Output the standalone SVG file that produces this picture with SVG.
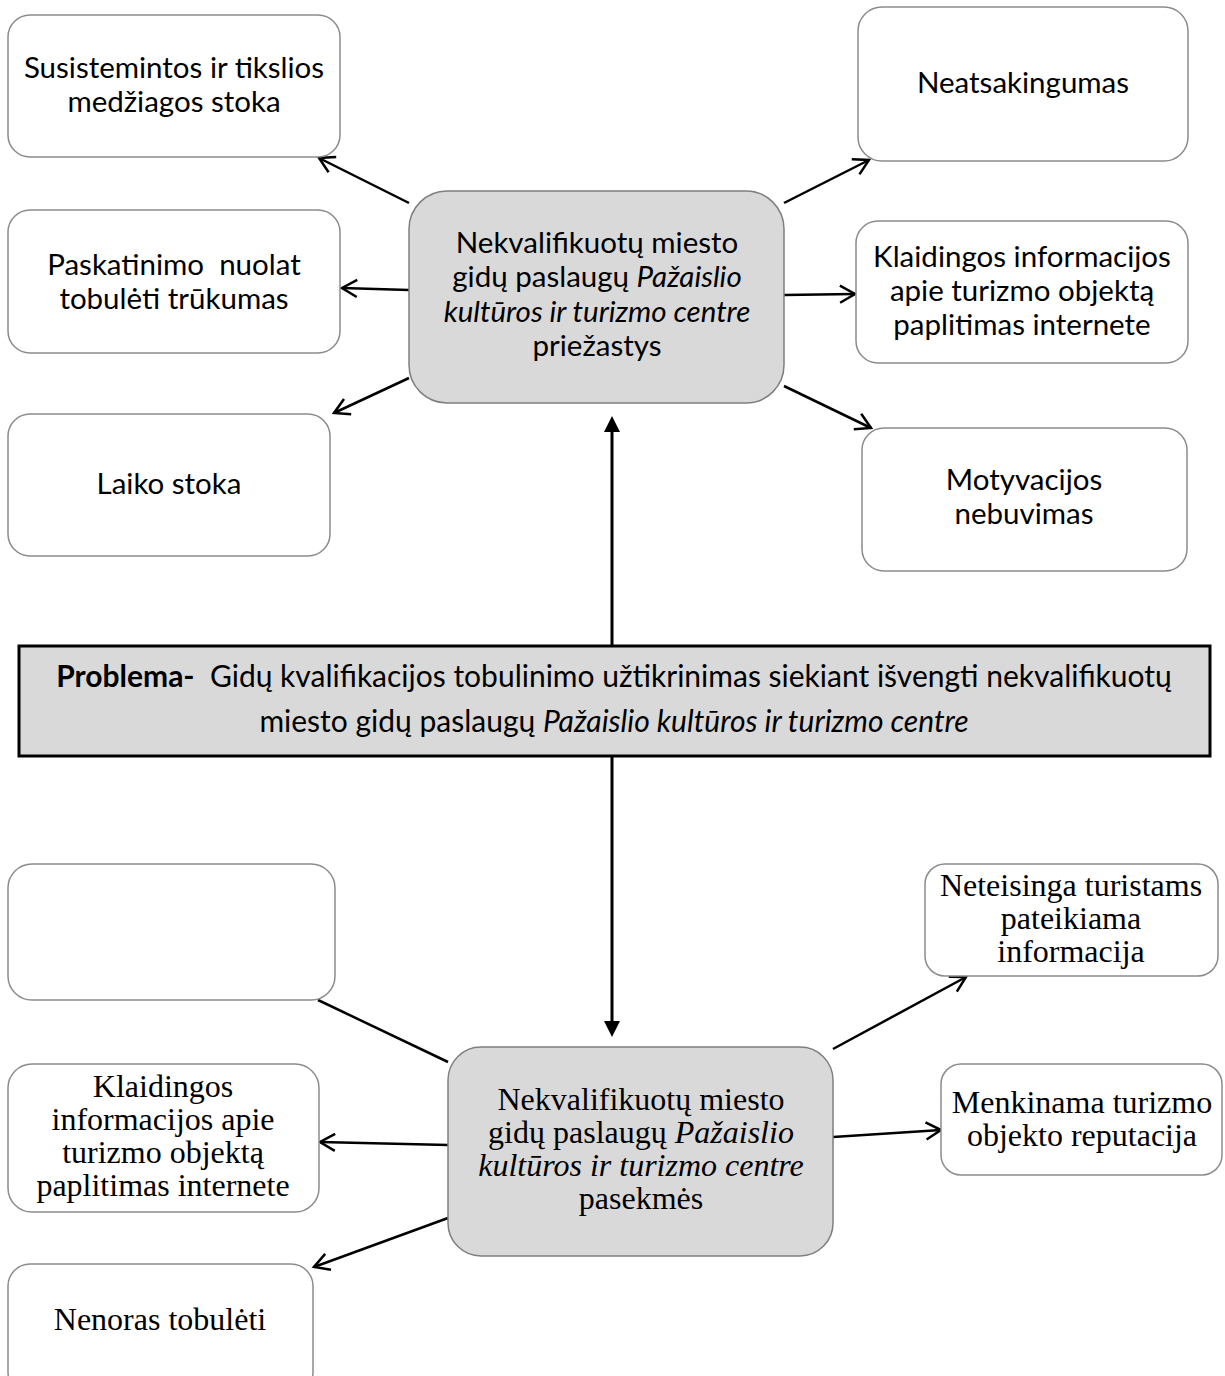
<svg xmlns="http://www.w3.org/2000/svg" width="1225" height="1376" viewBox="0 0 1225 1376">
<style>
.box{fill:#ffffff;stroke:#8c8c8c;stroke-width:1.5}
.hub{fill:#d9d9d9;stroke:#7f7f7f;stroke-width:1.5}
.prob{fill:#d9d9d9;stroke:#000000;stroke-width:3}
.c{font-family:Lato,"Liberation Sans",sans-serif;font-size:29.5px;fill:#000;text-anchor:middle;white-space:pre}
.p{font-size:30px}
.t{font-family:"Liberation Serif","Times New Roman",serif;font-size:32px;fill:#000;text-anchor:middle;white-space:pre}
.i{font-style:italic}
.b{font-weight:bold}
.ln{stroke:#000;stroke-width:2.5;fill:none}
.vln{stroke:#000;stroke-width:3;fill:none}
</style>
<defs>
<marker id="open" markerUnits="userSpaceOnUse" viewBox="-18 -11 21 22" markerWidth="21" markerHeight="22" refX="0" refY="0" orient="auto">
<path d="M-15,-8.5 L0,0 L-15,8.5" fill="none" stroke="#000" stroke-width="2.5"/>
</marker>
<marker id="solid" markerUnits="userSpaceOnUse" viewBox="-18 -10 20 20" markerWidth="20" markerHeight="20" refX="-8" refY="0" orient="auto">
<path d="M-16,-8 L0,0 L-16,8 Z" fill="#000"/>
</marker>
</defs>

<g id="connectors">
<line class="ln" x1="409" y1="203" x2="319" y2="158" marker-end="url(#open)"/>
<line class="ln" x1="409" y1="290" x2="342" y2="288" marker-end="url(#open)"/>
<line class="ln" x1="409" y1="378" x2="334" y2="413" marker-end="url(#open)"/>
<line class="ln" x1="784" y1="203" x2="869" y2="160" marker-end="url(#open)"/>
<line class="ln" x1="784" y1="295" x2="855" y2="294" marker-end="url(#open)"/>
<line class="ln" x1="784" y1="386" x2="871" y2="428" marker-end="url(#open)"/>
<line class="vln" x1="612" y1="646" x2="612" y2="424" marker-end="url(#solid)"/>
<line class="vln" x1="612" y1="756" x2="612" y2="1029" marker-end="url(#solid)"/>
<line class="ln" x1="318" y1="1000" x2="448" y2="1062"/>
<line class="ln" x1="448" y1="1145" x2="320" y2="1142" marker-end="url(#open)"/>
<line class="ln" x1="448" y1="1218" x2="314" y2="1267" marker-end="url(#open)"/>
<line class="ln" x1="833" y1="1049" x2="966" y2="977" marker-end="url(#open)"/>
<line class="ln" x1="833" y1="1137" x2="941" y2="1130" marker-end="url(#open)"/>
</g>

<g id="n-susistemintos">
<rect class="box" x="8" y="15" width="332" height="142" rx="22"/>
<text class="c" x="174" y="78">Susistemintos ir tikslios</text>
<text class="c" x="174" y="112">medžiagos stoka</text>
</g>
<g id="n-paskatinimo">
<rect class="box" x="8" y="210" width="332" height="143" rx="22"/>
<text class="c" x="174" y="275">Paskatinimo  nuolat</text>
<text class="c" x="174" y="309">tobulėti trūkumas</text>
</g>
<g id="n-laiko">
<rect class="box" x="8" y="414" width="322" height="142" rx="22"/>
<text class="c" x="169" y="494">Laiko stoka</text>
</g>
<g id="n-priezastys">
<rect class="hub" x="409" y="191" width="375" height="212" rx="38"/>
<text class="c" x="597" y="253">Nekvalifikuotų miesto</text>
<text class="c" x="597" y="287">gidų paslaugų <tspan class="i">Pažaislio</tspan></text>
<text class="c i" x="597" y="322">kultūros ir turizmo centre</text>
<text class="c" x="597" y="356">priežastys</text>
</g>
<g id="n-neatsakingumas">
<rect class="box" x="858" y="7" width="330" height="154" rx="24"/>
<text class="c" x="1023" y="93">Neatsakingumas</text>
</g>
<g id="n-klaidingos-top">
<rect class="box" x="856" y="221" width="332" height="142" rx="22"/>
<text class="c" x="1022" y="267">Klaidingos informacijos</text>
<text class="c" x="1022" y="301">apie turizmo objektą</text>
<text class="c" x="1022" y="335">paplitimas internete</text>
</g>
<g id="n-motyvacijos">
<rect class="box" x="862" y="428" width="325" height="143" rx="22"/>
<text class="c" x="1024" y="490">Motyvacijos</text>
<text class="c" x="1024" y="524">nebuvimas</text>
</g>
<g id="n-problema">
<rect class="prob" x="19" y="646" width="1191" height="110"/>
<text class="c p" x="614" y="687"><tspan class="b">Problema-</tspan>  Gidų kvalifikacijos tobulinimo užtikrinimas siekiant išvengti nekvalifikuotų</text>
<text class="c p" x="614" y="732">miesto gidų paslaugų <tspan class="i">Pažaislio kultūros ir turizmo centre</tspan></text>
</g>
<g id="n-empty">
<rect class="box" x="8" y="864" width="327" height="136" rx="24"/>
</g>
<g id="n-klaidingos-bottom">
<rect class="box" x="8" y="1064" width="311" height="148" rx="24"/>
<text class="t" x="163" y="1097">Klaidingos</text>
<text class="t" x="163" y="1130">informacijos apie</text>
<text class="t" x="163" y="1163">turizmo objektą</text>
<text class="t" x="163" y="1196">paplitimas internete</text>
</g>
<g id="n-nenoras">
<rect class="box" x="8" y="1264" width="305" height="130" rx="22"/>
<text class="t" x="160" y="1330">Nenoras tobulėti</text>
</g>
<g id="n-pasekmes">
<rect class="hub" x="448" y="1047" width="385" height="209" rx="33"/>
<text class="t" x="641" y="1110">Nekvalifikuotų miesto</text>
<text class="t" x="641" y="1143">gidų paslaugų <tspan class="i">Pažaislio</tspan></text>
<text class="t i" x="641" y="1176">kultūros ir turizmo centre</text>
<text class="t" x="641" y="1209">pasekmės</text>
</g>
<g id="n-neteisinga">
<rect class="box" x="925" y="864" width="293" height="112" rx="20"/>
<text class="t" x="1071" y="896">Neteisinga turistams</text>
<text class="t" x="1071" y="929">pateikiama</text>
<text class="t" x="1071" y="962">informacija</text>
</g>
<g id="n-menkinama">
<rect class="box" x="941" y="1064" width="281" height="111" rx="20"/>
<text class="t" x="1082" y="1113">Menkinama turizmo</text>
<text class="t" x="1082" y="1146">objekto reputacija</text>
</g>
</svg>
